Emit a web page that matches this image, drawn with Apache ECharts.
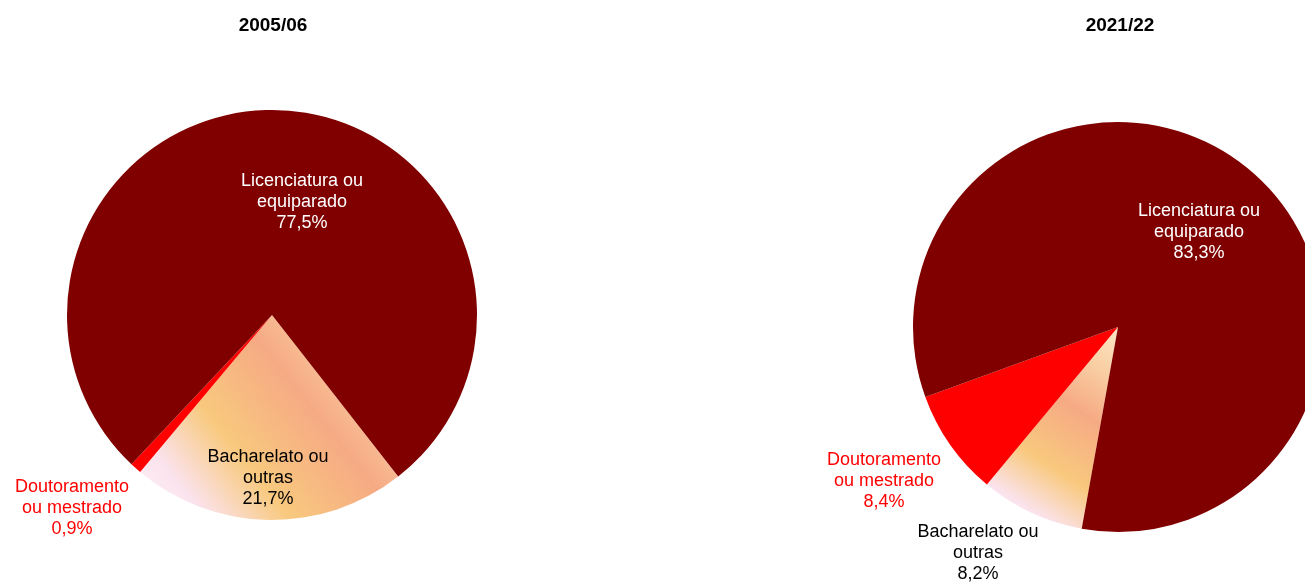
<!DOCTYPE html>
<html>
<head>
<meta charset="utf-8">
<script src="https://cdn.jsdelivr.net/npm/echarts@6/dist/echarts.min.js"></script>
<style>
  html, body { margin: 0; padding: 0; background: #fff; }
  #chart { width: 1305px; height: 586px; }
</style>
</head>
<body>
<div id="chart"></div>
<script>
// data (share of teachers by qualification, %)
const years = ['2005/06', '2021/22'];
const categories = ['Bacharelato ou\noutras', 'Doutoramento\nou mestrado', 'Licenciatura ou\nequiparado'];
const values2005 = [21.7, 0.9, 77.5];
const values2021 = [8.2, 8.4, 83.3];

const font = 'Liberation Sans, Arial, sans-serif';
const darkRed = '#800000';
const red = '#ff0000';
const bachFill = new echarts.graphic.LinearGradient(0, 1, 1, 0, [
  { offset: 0, color: '#fdf2f7' },
  { offset: 0.16, color: '#fbe3ee' },
  { offset: 0.36, color: '#f8c97e' },
  { offset: 0.62, color: '#f6aa84' },
  { offset: 0.82, color: '#f9cfa4' },
  { offset: 1, color: '#fde6c6' }
]);
const itemColors = [bachFill, red, darkRed];
const labelColors = ['#000', red, '#fff'];

// label anchor points for each pie (center of the text block)
const labelPos = [
  [[268, 478], [72, 508], [302, 202]],
  [[978, 553], [884, 481], [1199, 232]]
];

function buildSeries(values, center, startAngle, idx) {
  return {
    type: 'pie',
    center: center,
    radius: 205,
    startAngle: startAngle,
    clockwise: true,
    animation: false,
    silent: true,
    itemStyle: { borderWidth: 0 },
    label: {
      show: true,
      position: 'inside',
      fontFamily: font,
      fontSize: 18,
      lineHeight: 21,
      formatter: p => p.name + '\n' + p.value.toFixed(1).replace('.', ',') + '%'
    },
    labelLine: { show: false },
    labelLayout: p => ({
      x: labelPos[idx][p.dataIndex][0],
      y: labelPos[idx][p.dataIndex][1],
      align: 'center',
      verticalAlign: 'middle'
    }),
    data: categories.map((name, i) => ({
      name: name,
      value: values[i],
      itemStyle: { color: itemColors[i] },
      label: { color: labelColors[i] }
    }))
  };
}

const chart = echarts.init(document.getElementById('chart'), null, { renderer: 'canvas' });
chart.setOption({
  backgroundColor: '#fff',
  title: [
    { text: years[0], left: 268, top: 11, textAlign: 'center',
      textStyle: { fontFamily: font, fontSize: 19, fontWeight: 'bold', color: '#000' } },
    { text: years[1], left: 1115, top: 11, textAlign: 'center',
      textStyle: { fontFamily: font, fontSize: 19, fontWeight: 'bold', color: '#000' } }
  ],
  series: [
    buildSeries(values2005, [272, 315], -52, 0),
    buildSeries(values2021, [1118, 327], -100.2, 1)
  ]
});
</script>
</body>
</html>
